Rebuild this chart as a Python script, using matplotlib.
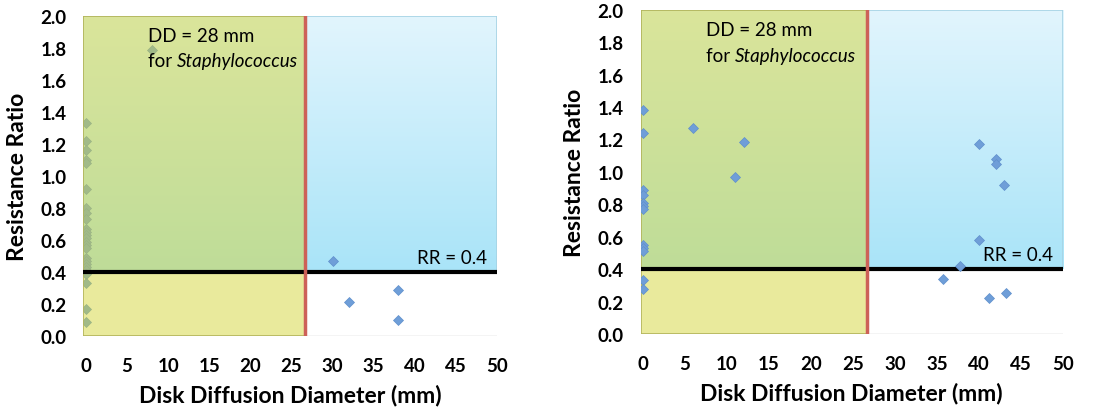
import numpy as np
import matplotlib.pyplot as plt
from matplotlib.colors import LinearSegmentedColormap
from matplotlib.patches import Rectangle

plt.rcParams['font.family'] = ['Lato', 'DejaVu Sans']

# Left panel data
left_x = [0] * 25 + [8, 30, 32, 38, 38]
left_y = [1.33, 1.22, 1.16, 1.10, 1.08, 0.92, 0.80, 0.77, 0.73,
          0.67, 0.65, 0.63, 0.61, 0.59, 0.57, 0.55, 0.49, 0.47,
          0.45, 0.43, 0.41, 0.39, 0.33, 0.17, 0.09,
          1.79, 0.47, 0.21, 0.29, 0.10]

# Right panel data
right_x = [0] * 12 + [6, 12, 11, 40, 42, 42, 43, 40, 37.7, 35.7, 41.2, 43.2]
right_y = [1.38, 1.24, 0.89, 0.86, 0.81, 0.79, 0.77, 0.55, 0.53, 0.51, 0.33, 0.28,
           1.27, 1.185, 0.97, 1.17, 1.08, 1.05, 0.92, 0.58, 0.42, 0.34, 0.22, 0.25]

x_ticks = [0, 5, 10, 15, 20, 25, 30, 35, 40, 45, 50]
y_ticks = [0.0, 0.2, 0.4, 0.6, 0.8, 1.0, 1.2, 1.4, 1.6, 1.8, 2.0]
dd_cut = 26.7
rr_cut = 0.4
x_start = -0.3

blue_cmap = LinearSegmentedColormap.from_list('sky', ['#a9e4f8', '#e2f5fd'])
marker_color = '#6f9ed8'


def draw_panel(ax, xs, ys, points_on_top):
    ax.set_xlim(x_start, 50)
    ax.set_ylim(0, 2)
    grad = np.linspace(0, 1, 256).reshape(-1, 1)
    ax.imshow(grad, cmap=blue_cmap, origin='lower', aspect='auto',
              extent=[x_start, 50, rr_cut, 2], zorder=0)
    ax.add_patch(Rectangle((x_start, rr_cut), 50 - x_start, 2 - rr_cut, fill=False,
                           edgecolor='#a6d3e4', lw=1.2, zorder=1))
    ax.add_patch(Rectangle((x_start, 0), dd_cut - x_start, 2, facecolor='#d4d63a',
                           alpha=0.5, edgecolor='none', zorder=3))
    ax.add_patch(Rectangle((x_start, 0), dd_cut - x_start, 2, fill=False,
                           edgecolor='#b4b55c', lw=1.2, zorder=3))
    ax.plot(xs, ys, linestyle='none', marker='D', ms=5.5, color=marker_color,
            mec='#5f8fcc', mew=0.5, zorder=6 if points_on_top else 2)
    ax.plot([x_start, 50], [rr_cut, rr_cut], color='black', lw=3, zorder=4)
    ax.plot([dd_cut, dd_cut], [0, 2], color='#cd6158', lw=2.5, zorder=5)
    ax.plot([x_start, 50], [0, 0], color='#c8c8c8', lw=1, zorder=1)

    ax.text(7.5, 1.88, 'DD = 28 mm', fontsize=13.5, va='center', zorder=7)
    t = ax.text(7.5, 1.72, 'for ', fontsize=13.5, va='center', zorder=7)
    ax.annotate('Staphylococcus', xy=(1, 0), xycoords=t, va='bottom',
                fontsize=13.5, fontstyle='italic', zorder=7)
    ax.text(48.8, 0.49, 'RR = 0.4', fontsize=13.5, va='center', ha='right', zorder=7)

    for s in ax.spines.values():
        s.set_visible(False)
    ax.set_xticks(x_ticks)
    ax.set_yticks(y_ticks)
    ax.set_yticklabels(['%.1f' % v for v in y_ticks])
    ax.tick_params(axis='y', length=0, labelsize=13.5, pad=12)
    ax.tick_params(axis='x', length=0, labelsize=13.5, pad=15)
    for lab in ax.get_xticklabels() + ax.get_yticklabels():
        lab.set_fontweight('bold')
    ax.set_xlabel('Disk Diffusion Diameter (mm)', fontsize=16.5, fontweight='bold', labelpad=7)
    ax.set_ylabel('Resistance Ratio', fontsize=16.5, fontweight='bold', labelpad=9)


fig = plt.figure(figsize=(11.13, 4.14), dpi=100)
ax1 = fig.add_axes([0.075, 0.186, 0.3715, 0.773])
ax2 = fig.add_axes([0.5755, 0.191, 0.3796, 0.783])
draw_panel(ax1, left_x, left_y, False)
draw_panel(ax2, right_x, right_y, True)

fig.savefig('out.png', dpi=100)
